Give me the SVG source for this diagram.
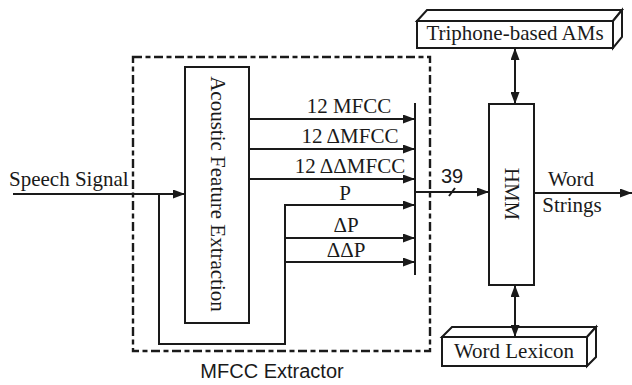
<svg xmlns="http://www.w3.org/2000/svg" width="632" height="385" viewBox="0 0 632 385">
<style>
.ln{stroke:#1a1a1a;stroke-width:2;fill:none}
.bx{stroke:#1a1a1a;stroke-width:2;fill:#fff}
.t{font-family:"Liberation Serif","Times New Roman",serif;font-size:21px;fill:#1a1a1a}
.s{font-family:"Liberation Sans",Arial,sans-serif;font-size:20px;fill:#1a1a1a}
.m{text-anchor:middle}
</style>
<defs>
<marker id="ah" viewBox="0 0 12 9" refX="12" refY="4.5" markerWidth="12" markerHeight="9" markerUnits="userSpaceOnUse" orient="auto-start-reverse">
<path d="M0,0 L12,4.5 L0,9 z" fill="#1a1a1a"/>
</marker>
</defs>
<rect width="632" height="385" fill="#fff"/>
<g id="mfcc-extractor">
<rect x="133" y="57" width="297" height="294" fill="none" stroke="#1a1a1a" stroke-width="2.4" stroke-dasharray="9 3.5 5 3.5"/>
<text class="s m" x="272" y="378">MFCC Extractor</text>
</g>
<g id="acoustic">
<rect class="bx" x="185" y="67" width="64" height="256"/>
<text class="t m" transform="translate(211,194) rotate(90)">Acoustic Feature Extraction</text>
</g>
<g id="bar">
<line class="ln" x1="415" y1="103" x2="415" y2="275"/>
</g>
<g id="hmm">
<rect class="bx" x="489" y="104" width="45" height="181"/>
<text class="t m" transform="translate(505,194) rotate(90)">HMM</text>
</g>
<g id="triphone">
<path class="bx" d="M417,21 L427,10 L622,10 L613,21 Z"/>
<path class="bx" d="M613,21 L622,10 L622,37 L613,48 Z"/>
<rect class="bx" x="417" y="21" width="196" height="27"/>
<text class="t m" x="515" y="40">Triphone-based AMs</text>
</g>
<g id="lexicon">
<path class="bx" d="M442,337 L452,327 L596,327 L587,337 Z"/>
<path class="bx" d="M587,337 L596,327 L596,357 L587,366 Z"/>
<rect class="bx" x="442" y="337" width="145" height="29"/>
<text class="t m" x="514" y="358">Word Lexicon</text>
</g>
<g id="connectors">
<line class="ln" x1="13" y1="194" x2="185" y2="194" marker-end="url(#ah)"/>
<polyline class="ln" points="159,194 159,344 285,344 285,205"/>
<line class="ln" x1="249" y1="119" x2="415" y2="119" marker-end="url(#ah)"/>
<line class="ln" x1="249" y1="149" x2="415" y2="149" marker-end="url(#ah)"/>
<line class="ln" x1="249" y1="179" x2="415" y2="179" marker-end="url(#ah)"/>
<line class="ln" x1="284" y1="205" x2="415" y2="205" marker-end="url(#ah)"/>
<line class="ln" x1="285" y1="238" x2="415" y2="238" marker-end="url(#ah)"/>
<line class="ln" x1="285" y1="262" x2="415" y2="262" marker-end="url(#ah)"/>
<line class="ln" x1="415" y1="192" x2="489" y2="192" marker-end="url(#ah)"/>
<line class="ln" x1="449" y1="196" x2="455" y2="188"/>
<line class="ln" x1="534" y1="193" x2="632" y2="193" marker-end="url(#ah)"/>
<line class="ln" x1="515" y1="48" x2="515" y2="104" marker-start="url(#ah)" marker-end="url(#ah)"/>
<line class="ln" x1="515" y1="285" x2="515" y2="337" marker-start="url(#ah)" marker-end="url(#ah)"/>
</g>
<g id="labels">
<text class="t" x="9" y="186">Speech Signal</text>
<text class="t m" x="349" y="113">12 MFCC</text>
<text class="t m" x="350" y="143">12 ΔMFCC</text>
<text class="t m" x="350" y="173">12 ΔΔMFCC</text>
<text class="t m" x="345" y="200">P</text>
<text class="t m" x="346" y="232">ΔP</text>
<text class="t m" x="346" y="257">ΔΔP</text>
<text class="s m" x="452" y="183">39</text>
<text class="t m" x="571" y="186">Word</text>
<text class="t m" x="572" y="212">Strings</text>
</g>
</svg>
